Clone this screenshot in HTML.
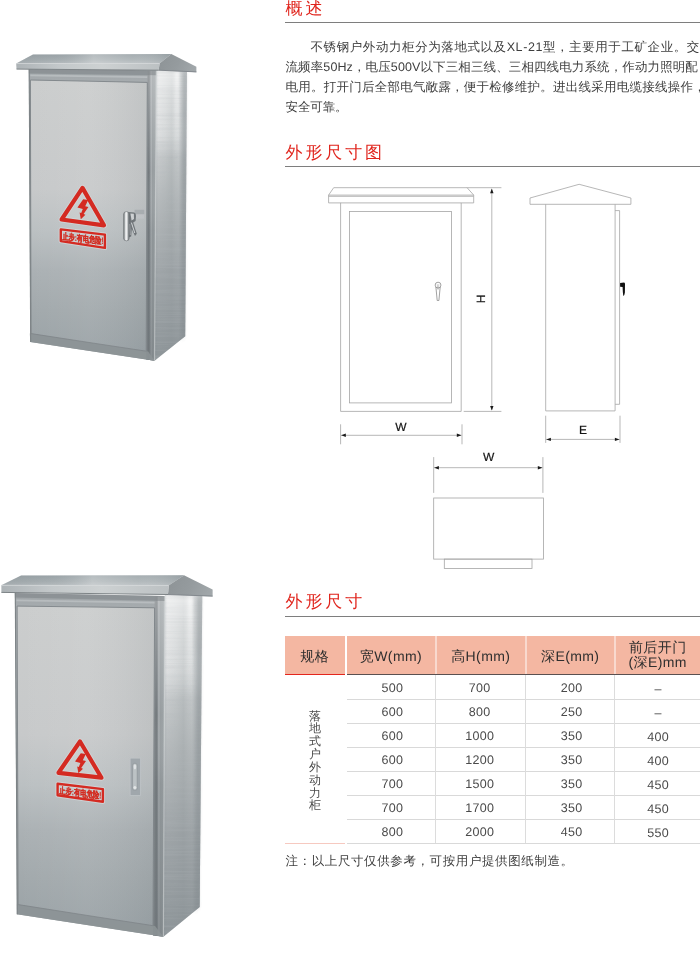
<!DOCTYPE html>
<html lang="zh">
<head>
<meta charset="utf-8">
<title>不锈钢户外动力柜</title>
<style>
html,body{margin:0;padding:0;background:#fff;}
body{text-rendering:geometricPrecision;width:700px;height:968px;position:relative;overflow:hidden;font-family:"Liberation Sans",sans-serif;color:#3c3c3c;}
.abs{position:absolute;}
h2{position:absolute;margin:0;font-weight:normal;font-size:17px;letter-spacing:2.9px;color:#e0241c;line-height:20px;left:285.5px;white-space:nowrap;}
.rule{position:absolute;left:285px;width:415px;height:1.3px;background:#7e7e7e;}
.para{position:absolute;left:285.5px;top:38px;width:440px;font-size:12.5px;line-height:19.9px;color:#3d3d3d;white-space:nowrap;}
.para div{height:19.9px;}
.para .j{text-align:justify;text-align-last:justify;}
#art{position:absolute;left:0;top:0;}
#dia{position:absolute;left:0;top:0;}
.th{position:absolute;top:635.5px;height:39.5px;background:#f4b7a2;font-size:14px;letter-spacing:0.4px;color:#2e2e2e;text-align:center;line-height:41px;white-space:nowrap;}
.th.two{line-height:15.6px;}
.td{position:absolute;font-size:12.5px;color:#4a4a4a;text-align:center;height:24px;line-height:24px;letter-spacing:0.3px;}
.hl{position:absolute;height:1px;background:#d9d9d9;}
.vl{position:absolute;width:1px;background:#dcdcdc;top:675px;height:168px;}
.vert{position:absolute;left:308.6px;top:709.5px;width:13px;font-size:12px;line-height:12.85px;color:#4a4a4a;text-align:center;}
.note{position:absolute;left:285.5px;top:851px;font-size:12.5px;letter-spacing:0.6px;color:#3d3d3d;line-height:20px;white-space:nowrap;}
</style>
</head>
<body>
<!--ART-->
<svg id="art" width="240" height="968" viewBox="0 0 240 968">
<defs>
<filter id="b1" x="-50%" y="-10%" width="200%" height="120%"><feGaussianBlur stdDeviation="1.2 2"/></filter>
<filter id="tex" x="0" y="0" width="100%" height="100%"><feTurbulence type="fractalNoise" baseFrequency="0.015 0.55" numOctaves="2" seed="7" result="n"/><feColorMatrix in="n" type="matrix" values="0 0 0 0 0.45  0 0 0 0 0.48  0 0 0 0 0.5  1.6 0 0 0 -0.62"/><feComposite in2="SourceGraphic" operator="in"/></filter>
<filter id="soft" x="-5%" y="-5%" width="110%" height="110%"><feGaussianBlur stdDeviation="0.45"/></filter>
<linearGradient id="rt1" x1="0" y1="54.5" x2="0" y2="63.6" gradientUnits="userSpaceOnUse"><stop offset="0" stop-color="#9aa3a7"/><stop offset="0.6" stop-color="#a8b0b3"/><stop offset="1" stop-color="#b8bec1"/></linearGradient>
<linearGradient id="rtx1" x1="16.2" y1="0" x2="171.3" y2="0" gradientUnits="userSpaceOnUse"><stop offset="0" stop-color="#8f979b" stop-opacity="0.4"/><stop offset="0.25" stop-color="#8f979b" stop-opacity="0.1"/><stop offset="0.5" stop-color="#ffffff" stop-opacity="0.28"/><stop offset="0.75" stop-color="#ffffff" stop-opacity="0.12"/><stop offset="1" stop-color="#8f979b" stop-opacity="0.35"/></linearGradient>
<linearGradient id="fa1" x1="16.2" y1="0" x2="159.5" y2="0" gradientUnits="userSpaceOnUse"><stop offset="0" stop-color="#adb3b6"/><stop offset="0.3" stop-color="#c3c8ca"/><stop offset="0.6" stop-color="#cdd1d2"/><stop offset="1" stop-color="#bcc1c3"/></linearGradient>
<linearGradient id="sl1" x1="159.5" y1="54.1" x2="196.4" y2="72.2" gradientUnits="userSpaceOnUse"><stop offset="0" stop-color="#8d9396"/><stop offset="0.5" stop-color="#959b9e"/><stop offset="1" stop-color="#a3a9ac"/></linearGradient>
<linearGradient id="fr1" x1="0" y1="69.1" x2="0" y2="360.8" gradientUnits="userSpaceOnUse"><stop offset="0" stop-color="#9ea4a7"/><stop offset="0.05" stop-color="#a8adb0"/><stop offset="0.5" stop-color="#a4a9ac"/><stop offset="1" stop-color="#8b9295"/></linearGradient>
<linearGradient id="dr1" x1="0" y1="80" x2="0" y2="351.2" gradientUnits="userSpaceOnUse"><stop offset="0" stop-color="#cbcdcd"/><stop offset="0.4" stop-color="#c7c9ca"/><stop offset="0.56" stop-color="#bbc0c2"/><stop offset="0.7" stop-color="#abb1b4"/><stop offset="0.85" stop-color="#a2a9ac"/><stop offset="1" stop-color="#9aa2a6"/></linearGradient>
<linearGradient id="drx1" x1="30.4" y1="0" x2="147.3" y2="0" gradientUnits="userSpaceOnUse"><stop offset="0" stop-color="#fff" stop-opacity="0"/><stop offset="0.5" stop-color="#fff" stop-opacity="0.06"/><stop offset="1" stop-color="#6d7478" stop-opacity="0.10"/></linearGradient>
<linearGradient id="sd1" x1="156.4" y1="0" x2="187" y2="0" gradientUnits="userSpaceOnUse"><stop offset="0" stop-color="#cfd2d4"/><stop offset="0.06" stop-color="#dddfe0"/><stop offset="0.3" stop-color="#d3d6d7"/><stop offset="0.5" stop-color="#c7cbcc"/><stop offset="0.62" stop-color="#d3d6d7"/><stop offset="0.72" stop-color="#d6d9da"/><stop offset="0.8" stop-color="#c2c6c8"/><stop offset="0.9" stop-color="#b4b9bb"/><stop offset="1" stop-color="#adb2b5"/></linearGradient>
<linearGradient id="sdy1" x1="0" y1="70.2" x2="0" y2="360.8" gradientUnits="userSpaceOnUse"><stop offset="0" stop-color="#fff" stop-opacity="0.25"/><stop offset="0.15" stop-color="#fff" stop-opacity="0.04"/><stop offset="0.3" stop-color="#8d9497" stop-opacity="0.28"/><stop offset="0.45" stop-color="#8d9497" stop-opacity="0.5"/><stop offset="0.7" stop-color="#8a9195" stop-opacity="0.75"/><stop offset="1" stop-color="#838b8f" stop-opacity="0.88"/></linearGradient>
<linearGradient id="gp1" x1="147.3" y1="0" x2="156.4" y2="0" gradientUnits="userSpaceOnUse"><stop offset="0" stop-color="#7b8185"/><stop offset="0.16" stop-color="#6b7175"/><stop offset="0.3" stop-color="#80868a"/><stop offset="0.42" stop-color="#adb2b5"/><stop offset="0.52" stop-color="#92989b"/><stop offset="0.85" stop-color="#989ea1"/><stop offset="1" stop-color="#b6bbbd"/></linearGradient>
<linearGradient id="gpy1" x1="0" y1="70.2" x2="0" y2="360.8" gradientUnits="userSpaceOnUse"><stop offset="0" stop-color="#fff" stop-opacity="0.32"/><stop offset="0.15" stop-color="#fff" stop-opacity="0.2"/><stop offset="0.35" stop-color="#fff" stop-opacity="0.04"/><stop offset="0.55" stop-color="#80878a" stop-opacity="0.2"/><stop offset="1" stop-color="#70777b" stop-opacity="0.5"/></linearGradient>
<linearGradient id="st1" x1="0" y1="70.2" x2="0" y2="157.38" gradientUnits="userSpaceOnUse"><stop offset="0" stop-color="#fff" stop-opacity="0.45"/><stop offset="0.3" stop-color="#fff" stop-opacity="0.2"/><stop offset="1" stop-color="#fff" stop-opacity="0"/></linearGradient>
<linearGradient id="rt2" x1="0" y1="575.5" x2="0" y2="585.6" gradientUnits="userSpaceOnUse"><stop offset="0" stop-color="#9aa3a7"/><stop offset="0.6" stop-color="#a8b0b3"/><stop offset="1" stop-color="#b8bec1"/></linearGradient>
<linearGradient id="rtx2" x1="1.4" y1="0" x2="184" y2="0" gradientUnits="userSpaceOnUse"><stop offset="0" stop-color="#8f979b" stop-opacity="0.4"/><stop offset="0.25" stop-color="#8f979b" stop-opacity="0.1"/><stop offset="0.5" stop-color="#ffffff" stop-opacity="0.28"/><stop offset="0.75" stop-color="#ffffff" stop-opacity="0.12"/><stop offset="1" stop-color="#8f979b" stop-opacity="0.35"/></linearGradient>
<linearGradient id="fa2" x1="1.4" y1="0" x2="168.6" y2="0" gradientUnits="userSpaceOnUse"><stop offset="0" stop-color="#adb3b6"/><stop offset="0.3" stop-color="#c3c8ca"/><stop offset="0.6" stop-color="#cdd1d2"/><stop offset="1" stop-color="#bcc1c3"/></linearGradient>
<linearGradient id="sl2" x1="168.6" y1="575.3" x2="212.6" y2="596.4" gradientUnits="userSpaceOnUse"><stop offset="0" stop-color="#8d9396"/><stop offset="0.5" stop-color="#959b9e"/><stop offset="1" stop-color="#a3a9ac"/></linearGradient>
<linearGradient id="fr2" x1="0" y1="593" x2="0" y2="936.8" gradientUnits="userSpaceOnUse"><stop offset="0" stop-color="#9ea4a7"/><stop offset="0.05" stop-color="#a8adb0"/><stop offset="0.5" stop-color="#a4a9ac"/><stop offset="1" stop-color="#8b9295"/></linearGradient>
<linearGradient id="dr2" x1="0" y1="606.1" x2="0" y2="925.7" gradientUnits="userSpaceOnUse"><stop offset="0" stop-color="#cbcdcd"/><stop offset="0.4" stop-color="#c7c9ca"/><stop offset="0.56" stop-color="#bbc0c2"/><stop offset="0.7" stop-color="#abb1b4"/><stop offset="0.85" stop-color="#a2a9ac"/><stop offset="1" stop-color="#9aa2a6"/></linearGradient>
<linearGradient id="drx2" x1="17.1" y1="0" x2="154.6" y2="0" gradientUnits="userSpaceOnUse"><stop offset="0" stop-color="#fff" stop-opacity="0"/><stop offset="0.5" stop-color="#fff" stop-opacity="0.06"/><stop offset="1" stop-color="#6d7478" stop-opacity="0.10"/></linearGradient>
<linearGradient id="sd2" x1="164.8" y1="0" x2="202.3" y2="0" gradientUnits="userSpaceOnUse"><stop offset="0" stop-color="#cfd2d4"/><stop offset="0.06" stop-color="#dddfe0"/><stop offset="0.3" stop-color="#d3d6d7"/><stop offset="0.5" stop-color="#c7cbcc"/><stop offset="0.62" stop-color="#d3d6d7"/><stop offset="0.72" stop-color="#d6d9da"/><stop offset="0.8" stop-color="#c2c6c8"/><stop offset="0.9" stop-color="#b4b9bb"/><stop offset="1" stop-color="#adb2b5"/></linearGradient>
<linearGradient id="sdy2" x1="0" y1="595.9" x2="0" y2="936.8" gradientUnits="userSpaceOnUse"><stop offset="0" stop-color="#fff" stop-opacity="0.25"/><stop offset="0.15" stop-color="#fff" stop-opacity="0.04"/><stop offset="0.3" stop-color="#8d9497" stop-opacity="0.28"/><stop offset="0.45" stop-color="#8d9497" stop-opacity="0.5"/><stop offset="0.7" stop-color="#8a9195" stop-opacity="0.75"/><stop offset="1" stop-color="#838b8f" stop-opacity="0.88"/></linearGradient>
<linearGradient id="gp2" x1="154.6" y1="0" x2="164.8" y2="0" gradientUnits="userSpaceOnUse"><stop offset="0" stop-color="#7b8185"/><stop offset="0.16" stop-color="#6b7175"/><stop offset="0.3" stop-color="#80868a"/><stop offset="0.42" stop-color="#adb2b5"/><stop offset="0.52" stop-color="#92989b"/><stop offset="0.85" stop-color="#989ea1"/><stop offset="1" stop-color="#b6bbbd"/></linearGradient>
<linearGradient id="gpy2" x1="0" y1="595.9" x2="0" y2="936.8" gradientUnits="userSpaceOnUse"><stop offset="0" stop-color="#fff" stop-opacity="0.32"/><stop offset="0.15" stop-color="#fff" stop-opacity="0.2"/><stop offset="0.35" stop-color="#fff" stop-opacity="0.04"/><stop offset="0.55" stop-color="#80878a" stop-opacity="0.2"/><stop offset="1" stop-color="#70777b" stop-opacity="0.5"/></linearGradient>
<linearGradient id="st2" x1="0" y1="595.9" x2="0" y2="698.17" gradientUnits="userSpaceOnUse"><stop offset="0" stop-color="#fff" stop-opacity="0.45"/><stop offset="0.3" stop-color="#fff" stop-opacity="0.2"/><stop offset="1" stop-color="#fff" stop-opacity="0"/></linearGradient>
<linearGradient id="hb" x1="123.6" y1="0" x2="129.2" y2="0" gradientUnits="userSpaceOnUse"><stop offset="0" stop-color="#63686c"/><stop offset="0.3" stop-color="#d9dcdd"/><stop offset="0.55" stop-color="#f0f1f2"/><stop offset="0.8" stop-color="#a5aaad"/><stop offset="1" stop-color="#5e6367"/></linearGradient>
</defs>
<g filter="url(#soft)">
<polygon points="28.8,69.1 156.4,70.2 154.5,360.8 30.3,341.9" fill="url(#fr1)"/>
<polygon points="156.4,67.7 187.0,69.5 185.2,336.2 154.5,360.8" fill="url(#sd1)"/>
<polygon points="156.4,67.7 187.0,69.5 185.2,336.2 154.5,360.8" fill="url(#sdy1)"/>
<polygon points="156.4,67.7 187.0,69.5 185.2,336.2 154.5,360.8" fill="#000" filter="url(#tex)" opacity="0.3"/>
<polygon points="157.6,71.2 179.6,71.2 179.1,157.4 157.1,157.4" fill="url(#st1)" filter="url(#b1)"/>
<polygon points="175.4,71.2 178.4,71.2 177.9,157.4 174.8,157.4" fill="url(#st1)" filter="url(#b1)"/>
<polygon points="182.7,71.2 187.0,72.0 185.2,336.2 181.1,339.6" fill="#7f868a" opacity="0.22" filter="url(#b1)"/>
<polygon points="147.3,71.2 156.4,70.2 154.5,360.8 146.2,359.4" fill="url(#gp1)"/>
<polygon points="147.3,71.2 156.4,70.2 154.5,360.8 146.2,359.4" fill="url(#gpy1)"/>
<polygon points="28.8,69.1 156.4,70.2 156.4,75.2 28.8,73.6" fill="#7d8387" opacity="0.55"/>
<line x1="30.3" y1="75.35" x2="147.3" y2="77.10000000000001" stroke="#c9cdcf" stroke-width="1.6" opacity="0.55"/>
<polygon points="29.8,333.6 148.2,351.5 154.5,360.8 30.3,341.9" fill="#8d9497" opacity="0.85"/>
<polygon points="30.4,80.0 147.3,82.4 146.2,351.2 31.0,333.6" fill="url(#dr1)" stroke="#82888c" stroke-width="1" stroke-linejoin="round"/>
<polygon points="30.4,80.0 147.3,82.4 146.2,351.2 31.0,333.6" fill="url(#drx1)"/>
<line x1="29.2" y1="69.1" x2="30.7" y2="341.9" stroke="#7e8487" stroke-width="1.1"/>
<line x1="156.4" y1="70.2" x2="154.5" y2="360.8" stroke="#d0d4d5" stroke-width="1.2" opacity="0.55"/>
<polygon points="33.0,54.5 171.3,54.1 159.5,63.6 16.2,63.6" fill="url(#rt1)"/>
<polygon points="33.0,54.5 171.3,54.1 159.5,63.6 16.2,63.6" fill="url(#rtx1)"/>
<polygon points="171.3,54.1 196.4,66.7 196.4,72.2 158.7,70.2 159.5,63.6" fill="url(#sl1)"/>
<polygon points="16.2,63.6 159.5,63.6 158.7,70.2 16.5,69.1" fill="url(#fa1)"/>
<line x1="16.5" y1="69.1" x2="158.7" y2="70.2" stroke="#7d8386" stroke-width="1"/>
<line x1="158.7" y1="70.2" x2="196.4" y2="71.9" stroke="#7f858a" stroke-width="0.9"/>
<line x1="16.2" y1="63.6" x2="159.5" y2="63.6" stroke="#d4d8d9" stroke-width="0.8" opacity="0.8"/>
<polygon points="82.5,187.9 104.0,225.3 61.6,219.5" fill="#d3d6d8" fill-opacity="0.35" stroke="#d6d9db" stroke-opacity="0.7" stroke-width="6" stroke-linejoin="round"/>
<polygon points="60.8,229.4 104.9,234.6 104.9,247.9 60.8,241.1" fill="#d3d6d8" fill-opacity="0.35" stroke="#d6d9db" stroke-opacity="0.7" stroke-width="4.4" stroke-linejoin="round"/>
<polygon points="82.5,187.9 104.0,225.3 61.6,219.5" fill="none" stroke="#d42b20" stroke-width="4.2" stroke-linejoin="round"/>
<polygon points="83.2,199.3 88.2,200.1 85.2,206.3 88.4,207.1 83.6,214.1 85.4,214.7 80.8,219.3 79.6,212.5 81.2,213.1 82.8,208.9 77.4,207.5" fill="#d42b20"/>
<polygon points="60.8,229.4 104.9,234.6 104.9,247.9 60.8,241.1" fill="none" stroke="#d42b20" stroke-width="2.4" stroke-linejoin="round"/>
<text transform="matrix(1 0.118 0 1 62.4 239.2)" font-family="Liberation Sans, sans-serif" font-weight="bold" font-size="9.0" fill="#d42b20" stroke="#d42b20" stroke-width="0.15" textLength="41.2" lengthAdjust="spacingAndGlyphs">止步:有电危险!</text>
<rect x="134.6" y="209.8" width="9.6" height="4.4" fill="#959b9f" opacity="0.5"/>
<rect x="135.6" y="214.2" width="8.6" height="4.6" fill="#d5d8da" opacity="0.22"/>
<path d="M128.4 212.0 L134.2 212.4 Q136.2 213 136 216 L135.6 221 L133.2 222.6 L136.8 233.8 L135 236 L131.8 229 L131.2 236.6 L128.4 237.4 Z" fill="#6f7579"/>
<path d="M130.4 213.4 L133.8 213.8 L134 219 L131.6 220.6 Z" fill="#dfe2e3" opacity="0.85"/>
<path d="M131.4 222.6 L134.8 233" stroke="#d3d6d8" stroke-width="1" fill="none"/>
<path d="M129.6 224 L130.2 235" stroke="#b9bdc0" stroke-width="0.8" fill="none"/>
<rect x="123.7" y="211.6" width="5.4" height="29.2" rx="2.6" ry="2.6" fill="url(#hb)" stroke="#666b6f" stroke-width="0.6"/>
<polygon points="14.9,593.0 164.8,595.9 163.4,936.8 16.9,914.3" fill="url(#fr2)"/>
<polygon points="164.8,593.4 202.3,593.9 199.7,906.9 163.4,936.8" fill="url(#sd2)"/>
<polygon points="164.8,593.4 202.3,593.9 199.7,906.9 163.4,936.8" fill="url(#sdy2)"/>
<polygon points="164.8,593.4 202.3,593.9 199.7,906.9 163.4,936.8" fill="#000" filter="url(#tex)" opacity="0.3"/>
<polygon points="166.3,596.9 193.3,596.9 192.6,698.2 165.9,698.2" fill="url(#st2)" filter="url(#b1)"/>
<polygon points="188.0,596.9 191.8,596.9 191.1,698.2 187.4,698.2" fill="url(#st2)" filter="url(#b1)"/>
<polygon points="197.0,596.9 202.3,596.4 199.7,906.9 194.8,911.1" fill="#7f868a" opacity="0.22" filter="url(#b1)"/>
<polygon points="154.6,596.9 164.8,595.9 163.4,936.8 153.0,935.4" fill="url(#gp2)"/>
<polygon points="154.6,596.9 164.8,595.9 163.4,936.8 153.0,935.4" fill="url(#gpy2)"/>
<polygon points="14.9,593.0 164.8,595.9 164.8,600.9 14.9,597.5" fill="#7d8387" opacity="0.55"/>
<line x1="16.4" y1="600.3499999999999" x2="154.6" y2="602.6499999999999" stroke="#c9cdcf" stroke-width="1.6" opacity="0.55"/>
<polygon points="16.9,904.6 155.0,926.0 163.4,936.8 16.9,914.3" fill="#8d9497" opacity="0.85"/>
<polygon points="17.1,606.1 154.6,607.8 153.0,925.7 18.1,904.6" fill="url(#dr2)" stroke="#82888c" stroke-width="1" stroke-linejoin="round"/>
<polygon points="17.1,606.1 154.6,607.8 153.0,925.7 18.1,904.6" fill="url(#drx2)"/>
<line x1="15.3" y1="593" x2="17.299999999999997" y2="914.3" stroke="#7e8487" stroke-width="1.1"/>
<line x1="164.8" y1="595.9" x2="163.4" y2="936.8" stroke="#d0d4d5" stroke-width="1.2" opacity="0.55"/>
<polygon points="21.1,575.5 184.0,575.3 168.6,585.6 1.4,585.3" fill="url(#rt2)"/>
<polygon points="21.1,575.5 184.0,575.3 168.6,585.6 1.4,585.3" fill="url(#rtx2)"/>
<polygon points="184.0,575.3 212.6,589.6 212.6,596.4 168.0,594.5 168.6,585.6" fill="url(#sl2)"/>
<polygon points="1.4,585.3 168.6,585.6 168.0,594.5 1.4,592.4" fill="url(#fa2)"/>
<line x1="1.4" y1="592.4" x2="168" y2="594.5" stroke="#7d8386" stroke-width="1"/>
<line x1="168" y1="594.5" x2="212.6" y2="596.1" stroke="#7f858a" stroke-width="0.9"/>
<line x1="1.4" y1="585.3" x2="168.6" y2="585.6" stroke="#d4d8d9" stroke-width="0.8" opacity="0.8"/>
<polygon points="80.0,741.5 101.5,777.7 58.5,772.8" fill="#d3d6d8" fill-opacity="0.35" stroke="#d6d9db" stroke-opacity="0.7" stroke-width="6" stroke-linejoin="round"/>
<polygon points="57.6,783.7 102.9,789.1 102.9,801.8 57.6,795.3" fill="#d3d6d8" fill-opacity="0.35" stroke="#d6d9db" stroke-opacity="0.7" stroke-width="4.4" stroke-linejoin="round"/>
<polygon points="80.0,741.5 101.5,777.7 58.5,772.8" fill="none" stroke="#d42b20" stroke-width="4.2" stroke-linejoin="round"/>
<polygon points="80.8,753.3 85.8,754.1 82.8,760.3 86.0,761.1 81.2,768.1 83.0,768.7 78.4,773.3 77.2,766.5 78.8,767.1 80.4,762.9 75.0,761.5" fill="#d42b20"/>
<polygon points="57.6,783.7 102.9,789.1 102.9,801.8 57.6,795.3" fill="none" stroke="#d42b20" stroke-width="2.4" stroke-linejoin="round"/>
<text transform="matrix(1 0.119 0 1 59.2 793.5)" font-family="Liberation Sans, sans-serif" font-weight="bold" font-size="9.0" fill="#d42b20" stroke="#d42b20" stroke-width="0.15" textLength="42.2" lengthAdjust="spacingAndGlyphs">止步:有电危险!</text>
<rect x="130.1" y="758.1" width="10.3" height="37.3" fill="#a0a7ac" stroke="#bfc4c7" stroke-width="0.8"/>
<rect x="132.6" y="763.2" width="4.6" height="27.2" rx="2.3" fill="#bcc2c5" stroke="#8a9196" stroke-width="0.6"/>
<ellipse cx="134.9" cy="766.8" rx="1.3" ry="2.6" fill="#dfe2e4"/>
<circle cx="134.9" cy="787.6" r="1.5" fill="#e3e6e7"/>
</g>
<!--EXTRA-->
</svg>
<!--/ART-->
<!--DIA-->
<svg id="dia" width="700" height="968" viewBox="0 0 700 968">
<g fill="none" stroke="#a4a4a4" stroke-width="0.8">
<polygon points="333.7,187.7 467.1,187.7 473.7,195.1 473.7,202.9 328.6,202.9 328.6,195.1"/>
<line x1="328.6" y1="195.1" x2="473.7" y2="195.1"/>
<line x1="328.6" y1="196.3" x2="473.7" y2="196.3"/>
<line x1="340.6" y1="202.9" x2="340.6" y2="411.4"/>
<line x1="461.2" y1="202.9" x2="461.2" y2="411.4"/>
<line x1="340.6" y1="411.4" x2="461.2" y2="411.4"/>
<rect x="349.4" y="211.4" width="102" height="191.5"/>
<circle cx="438.05" cy="285.1" r="2.9" stroke="#8a8a8a"/>
<path d="M435.9 287.0 L437.2 300.5 L438.9 300.5 L440.2 287.0" stroke="#8a8a8a"/>
<path d="M437.3 284.2 L437.6 289.5 M438.8 284.2 L438.5 289.5" stroke="#9a9a9a" stroke-width="0.5"/>
<line x1="467.1" y1="187.7" x2="501.4" y2="187.7"/>
<line x1="463.7" y1="411.4" x2="501.4" y2="411.4"/>
<line x1="491.8" y1="189.5" x2="491.8" y2="410"/>
<line x1="340.6" y1="424.3" x2="340.6" y2="444.3"/>
<line x1="462" y1="424.3" x2="462" y2="444.3"/>
<line x1="341" y1="435.3" x2="461.5" y2="435.3"/>
<polygon points="530,198 579.1,184.3 630.9,198 630.9,204.3 530,204.3"/>
<line x1="545.7" y1="204.3" x2="545.7" y2="410.9"/>
<line x1="615.1" y1="204.3" x2="615.1" y2="410.9"/>
<line x1="545.7" y1="410.9" x2="615.1" y2="410.9"/>
<path d="M615.1 210.6 H619.6 V404.3 H615.1"/>
<line x1="545.7" y1="415.7" x2="545.7" y2="442.9"/>
<line x1="620" y1="415.7" x2="620" y2="442.9"/>
<line x1="546" y1="439.4" x2="619.6" y2="439.4"/>
<line x1="433.7" y1="457.1" x2="433.7" y2="492.9"/>
<line x1="542.9" y1="457.1" x2="542.9" y2="492.9"/>
<line x1="434" y1="467.7" x2="542.5" y2="467.7"/>
<rect x="433.7" y="498" width="109.7" height="61.1"/>
<rect x="444.3" y="559.1" width="87.7" height="9.5"/>
</g>
<polygon points="491.8,188.6 490.1,193.2 493.5,193.2" fill="#1a1a1a" stroke="none"/>
<polygon points="491.8,410.6 490.1,406.0 493.5,406.0" fill="#1a1a1a" stroke="none"/>
<polygon points="341.2,435.3 345.8,433.6 345.8,437.0" fill="#1a1a1a" stroke="none"/>
<polygon points="461.4,435.3 456.79999999999995,433.6 456.79999999999995,437.0" fill="#1a1a1a" stroke="none"/>
<polygon points="546.3,439.4 550.9,437.7 550.9,441.09999999999997" fill="#1a1a1a" stroke="none"/>
<polygon points="619.5,439.4 614.9,437.7 614.9,441.09999999999997" fill="#1a1a1a" stroke="none"/>
<polygon points="434.3,467.7 438.90000000000003,466.0 438.90000000000003,469.4" fill="#1a1a1a" stroke="none"/>
<polygon points="542.4,467.7 537.8,466.0 537.8,469.4" fill="#1a1a1a" stroke="none"/>
<path d="M620.1 283.1 L624.1 282.6 Q625 282.7 625 284 L624.9 292.6 Q624.6 295.6 623.3 295.9 Q622.7 292 622.6 287 L620.1 286.7 Z" fill="#111"/>
<g font-family="Liberation Sans, sans-serif" font-size="12" fill="#151515" stroke="#151515" stroke-width="0.2" text-anchor="middle">
<text x="401" y="431.4">W</text>
<text x="582.9" y="433.6">E</text>
<text x="488.6" y="461">W</text>
<text transform="translate(485.3,299) rotate(-90)" x="0" y="0">H</text>
</g>
</svg>
<!--/DIA-->
<h2 style="top:-1px;">概述</h2>
<div class="rule" style="top:22px;"></div>
<div class="para">
<div style="margin-left:25px;letter-spacing:0.58px;">不锈钢户外动力柜分为落地式以及XL-21型，主要用于工矿企业。交</div>
<div style="letter-spacing:0.114px;">流频率50Hz，电压500V以下三相三线、三相四线电力系统，作动力照明配</div>
<div style="letter-spacing:0.24px;">电用。打开门后全部电气敞露，便于检修维护。进出线采用电缆接线操作，</div>
<div style="letter-spacing:-0.1px;">安全可靠。</div>
</div>
<h2 style="top:142.5px;">外形尺寸图</h2>
<div class="rule" style="top:165.8px;"></div>
<h2 style="top:591.5px;">外形尺寸</h2>
<div class="rule" style="top:616px;"></div>
<!--TABLE-->
<div class="abs" style="left:347px;top:635.5px;width:353px;height:39.5px;background:#f9d9ce;"></div>
<div class="th" style="left:285px;width:59.5px;">规格</div>
<div class="th" style="left:347px;width:88px;">宽W(mm)</div>
<div class="th" style="left:436.5px;width:88.5px;">高H(mm)</div>
<div class="th" style="left:526.5px;width:87.5px;">深E(mm)</div>
<div class="th two" style="left:615.5px;width:84.5px;"><div style="padding-top:4px;">前后开门</div><div>(深E)mm</div></div>
<div class="abs" style="left:285px;top:673.6px;width:59.5px;height:1.9px;background:#e3261d;"></div>
<div class="abs" style="left:347px;top:673.9px;width:353px;height:1.5px;background:#5a5050;"></div>
<div class="td" style="left:348.5px;width:88px;top:676px;">500</div>
<div class="td" style="left:435.5px;width:88.5px;top:676px;">700</div>
<div class="td" style="left:528.0px;width:87.5px;top:676px;">200</div>
<div class="td" style="left:616.0px;width:84.5px;top:677px;">–</div>
<div class="hl" style="left:347px;width:353px;top:699px;"></div>
<div class="td" style="left:348.5px;width:88px;top:700px;">600</div>
<div class="td" style="left:435.5px;width:88.5px;top:700px;">800</div>
<div class="td" style="left:528.0px;width:87.5px;top:700px;">250</div>
<div class="td" style="left:616.0px;width:84.5px;top:701px;">–</div>
<div class="hl" style="left:347px;width:353px;top:723px;"></div>
<div class="td" style="left:348.5px;width:88px;top:724px;">600</div>
<div class="td" style="left:435.5px;width:88.5px;top:724px;">1000</div>
<div class="td" style="left:528.0px;width:87.5px;top:724px;">350</div>
<div class="td" style="left:616.0px;width:84.5px;top:725px;">400</div>
<div class="hl" style="left:347px;width:353px;top:747px;"></div>
<div class="td" style="left:348.5px;width:88px;top:748px;">600</div>
<div class="td" style="left:435.5px;width:88.5px;top:748px;">1200</div>
<div class="td" style="left:528.0px;width:87.5px;top:748px;">350</div>
<div class="td" style="left:616.0px;width:84.5px;top:749px;">400</div>
<div class="hl" style="left:347px;width:353px;top:771px;"></div>
<div class="td" style="left:348.5px;width:88px;top:772px;">700</div>
<div class="td" style="left:435.5px;width:88.5px;top:772px;">1500</div>
<div class="td" style="left:528.0px;width:87.5px;top:772px;">350</div>
<div class="td" style="left:616.0px;width:84.5px;top:773px;">450</div>
<div class="hl" style="left:347px;width:353px;top:795px;"></div>
<div class="td" style="left:348.5px;width:88px;top:796px;">700</div>
<div class="td" style="left:435.5px;width:88.5px;top:796px;">1700</div>
<div class="td" style="left:528.0px;width:87.5px;top:796px;">350</div>
<div class="td" style="left:616.0px;width:84.5px;top:797px;">450</div>
<div class="hl" style="left:347px;width:353px;top:819px;"></div>
<div class="td" style="left:348.5px;width:88px;top:820px;">800</div>
<div class="td" style="left:435.5px;width:88.5px;top:820px;">2000</div>
<div class="td" style="left:528.0px;width:87.5px;top:820px;">450</div>
<div class="td" style="left:616.0px;width:84.5px;top:821px;">550</div>
<div class="hl" style="left:347px;width:353px;top:843px;"></div>
<div class="hl" style="left:285px;width:60px;top:843px;background:#f6c9c0;"></div>
<div class="vl" style="left:435px;"></div>
<div class="vl" style="left:525px;"></div>
<div class="vl" style="left:614px;"></div>
<div class="vert">落地式户外动力柜</div>
<div class="note">注：以上尺寸仅供参考，可按用户提供图纸制造。</div>
<!--/TABLE-->
</body>
</html>
